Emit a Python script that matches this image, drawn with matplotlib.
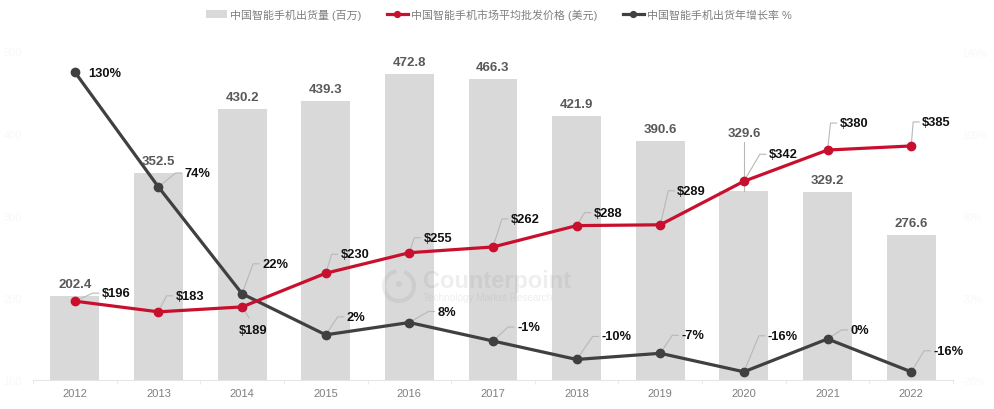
import matplotlib
matplotlib.use("Agg")
import matplotlib.pyplot as plt
from matplotlib.patches import Arc, Circle

plt.rcParams['font.family'] = ['Liberation Sans', 'Noto Sans CJK SC', 'DejaVu Sans']

years = ['2012', '2013', '2014', '2015', '2016', '2017', '2018', '2019', '2020', '2021', '2022']
shipments = [202.4, 352.5, 430.2, 439.3, 472.8, 466.3, 421.9, 390.6, 329.6, 329.2, 276.6]
prices = [196, 183, 189, 230, 255, 262, 288, 289, 342, 380, 385]
growth = [130, 74, 22, 2, 8, -1, -10, -7, -16, 0, -16]

left_tick_vals = [100, 200, 300, 400, 500]
right_tick_vals = [-20, 20, 60, 100, 140]

W, H = 995, 410
GREY = '#d9d9d9'
RED = '#c8102e'
DARK = '#404040'
LEADER = '#b8b8b8'
FAINT = '#f8f8f8'

fig = plt.figure(figsize=(W / 100, H / 100), dpi=100)
# axes box in pixels: x 33..953, y 52.5..381
ax = fig.add_axes([33 / W, 1 - 381 / H, 920 / W, 328.5 / H])
ax2 = ax.twinx()
ax3 = ax.twinx()
x = list(range(len(years)))

ax.set_xlim(-0.5, 10.5)
ax.set_ylim(100, 500)
ax2.set_ylim(-20, 140)
ax3.set_ylim(100, 500)

bars = ax.bar(x, shipments, width=0.585, color=GREY, label='中国智能手机出货量 (百万)', zorder=1)
dark_line, = ax2.plot(x, growth, color=DARK, lw=2.3, marker='o', ms=6, label='中国智能手机出货年增长率 %', zorder=3)
red_line, = ax3.plot(x, prices, color=RED, lw=2.3, marker='o', ms=6, label='中国智能手机市场平均批发价格 (美元)', zorder=4)

for a in [ax, ax2, ax3]:
    for s in ['top', 'left', 'right', 'bottom']:
        a.spines[s].set_visible(False)
ax.spines['bottom'].set_visible(True)
ax.spines['bottom'].set_color('#e6e6e6')

ax.set_xticks([i - 0.5 for i in range(12)], minor=True)
ax.set_xticks(x)
ax.set_xticklabels(years, fontsize=8, color='#7f7f7f')
ax.tick_params(axis='x', which='major', length=0, pad=6)
ax.tick_params(axis='x', which='minor', length=3, color='#e6e6e6')
ax.set_yticks(left_tick_vals)
ax.set_yticklabels([str(v) for v in left_tick_vals], fontsize=8, color=FAINT)
ax.tick_params(axis='y', length=0, pad=8)
ax2.set_yticks(right_tick_vals)
ax2.set_yticklabels([f'{v}%' for v in right_tick_vals], fontsize=7, color=FAINT)
ax2.tick_params(axis='y', length=0, pad=7)
ax3.set_yticks([])

# bar value labels, pixels above the bar top
bar_off = [12, 12, 12, 12, 12, 12, 12, 12, 58, 12, 12]
for i, v in enumerate(shipments):
    ax3.annotate(f'{v}', (i, v), xytext=(0, bar_off[i]), textcoords='offset pixels', ha='center', va='center',
                 fontsize=9.5, color='#595959', fontweight='bold', zorder=5)

# label offsets in pixels from the marker: left edge of text, centre of text
price_off = [(27, 8), (17, 16), (-3, -23), (15, 19), (14, 15), (18, 28), (17, 13), (17, 34), (25, 27), (12, 27), (11, 24)]
growth_off = [(13, -1), (26, 14), (20, 30), (21, 18), (28, 11), (24, 14), (25, 23), (21, 18), (24, 36), (23, 9), (22, 21)]


def labelled(axis, xi, yv, text, off):
    dx, dy = off
    px, py = axis.transData.transform((xi, yv))
    if dy < 0 and dx < 0:
        # 2014 price label sits below its marker
        axis.plot([px, px + 7], [py, py - 11], transform=None, color=LEADER, lw=0.8, zorder=2)
    elif dy > 5:
        axis.plot([px, px + dx - 9, px + dx - 3], [py, py + dy, py + dy], transform=None,
                  color=LEADER, lw=0.8, zorder=2)
    axis.annotate(text, (xi, yv), xytext=(dx, dy), textcoords='offset pixels', ha='left', va='center',
                  fontsize=9.3, fontweight='bold', color='#111111', zorder=6)


for i in x:
    labelled(ax2, i, growth[i], f'{growth[i]}%', growth_off[i])
    labelled(ax3, i, prices[i], f'${prices[i]}', price_off[i])

# tall leader from the 2020 bar up to its label
px, py = ax.transData.transform((8, shipments[8]))
ax.plot([px, px], [py, py + 49], transform=None, color=LEADER, lw=0.8, zorder=2)

# watermark
ax3.text(423 / W, 1 - 282 / H, 'Counterpoint', transform=fig.transFigure, fontsize=17, fontweight='bold',
         color='#808080', alpha=0.13, va='center', zorder=1.5)
ax3.text(423 / W, 1 - 298 / H, 'Technology Market Research', transform=fig.transFigure, fontsize=7.2,
         color='#808080', alpha=0.13, va='center', zorder=1.5)
ax3.add_patch(Arc((399, H - 287), 30, 30, theta1=100, theta2=70, transform=None, color='#808080', alpha=0.13, lw=3))
ax3.add_patch(Circle((399, H - 285), 3, transform=None, color='#808080', alpha=0.13, lw=0))

fig.legend(handles=[bars, red_line, dark_line], loc='center', bbox_to_anchor=(499 / W, 1 - 15 / H), ncol=3,
           frameon=False, fontsize=7.9, labelcolor='#7f7f7f', handlelength=1.9, columnspacing=2.3,
           handletextpad=0.3, markerscale=0.7)

fig.savefig('out.png', dpi=100)
